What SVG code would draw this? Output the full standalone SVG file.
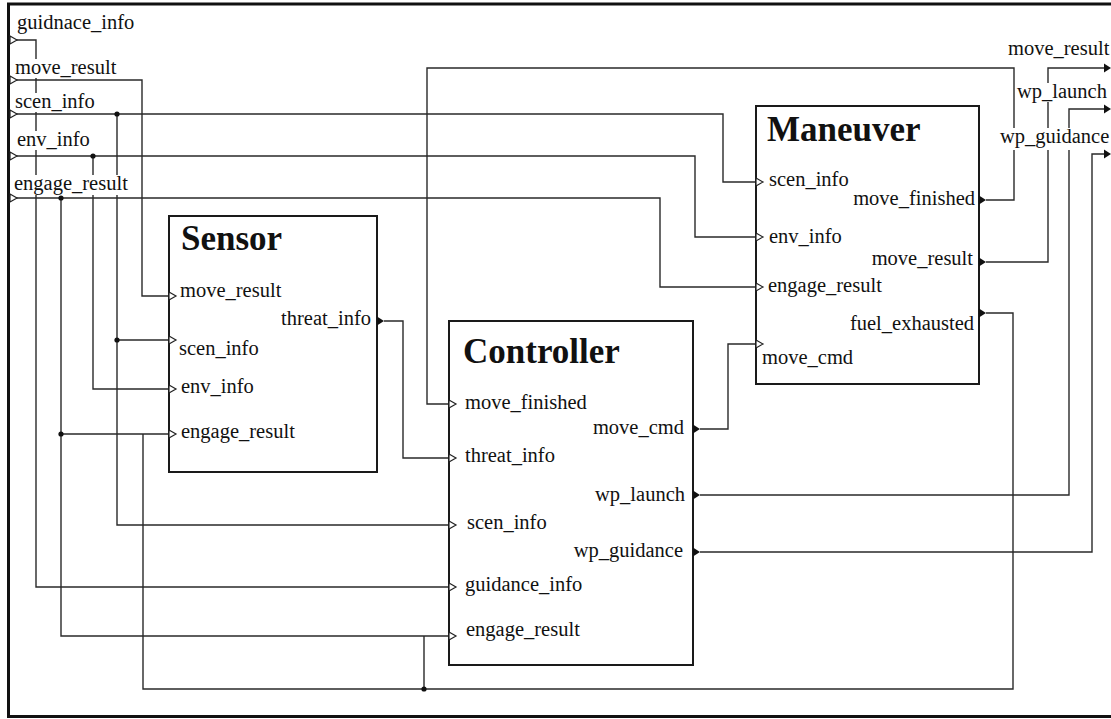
<svg xmlns="http://www.w3.org/2000/svg" width="1111" height="719" viewBox="0 0 1111 719">
<style>
.w{fill:none;stroke:#2a2a2a;stroke-width:1.4}
.box{fill:#fff;stroke:#1a1a1a;stroke-width:2}
.t{font-family:"Liberation Serif","Times New Roman",serif;font-size:20.5px;fill:#111}
.ti{font-family:"Liberation Serif","Times New Roman",serif;font-size:35px;font-weight:bold;fill:#111}
.e{text-anchor:end}
.in{fill:#fff;stroke:#222;stroke-width:1.2}
.out{fill:#111}
.dot{fill:#111}
.bg{fill:#fff}
</style>
<defs>
<polygon id="pin" class="in" points="0,-4 7,0 0,4"/>
<polygon id="pout" class="out" points="0,-4.5 7,0 0,4.5"/>
</defs>
<rect x="0" y="0" width="1111" height="719" fill="#fff"/>
<rect x="8.5" y="4" width="1130" height="712.5" fill="none" stroke="#111" stroke-width="3"/>

<g id="connectors">
<path class="w" d="M16,40 H36 V587 H450"/>
<path class="w" d="M16,80 H142 V296 H170"/>
<path class="w" d="M16,114 H723 V182 H757"/>
<path class="w" d="M117,114 V525 H450 M117,340 H170"/>
<path class="w" d="M16,156 H695 V237 H757"/>
<path class="w" d="M93,156 V389 H170"/>
<path class="w" d="M16,198 H660 V287 H757"/>
<path class="w" d="M61,198 V636 H450 M61,434 H170"/>
<path class="w" d="M384,321 H403 V458 H450"/>
<path class="w" d="M986,200 H1014 V68 H427 V404 H450"/>
<path class="w" d="M700,429 H728 V344 H757"/>
<path class="w" d="M986,262 H1048 V68 H1104"/>
<path class="w" d="M700,495 H1069 V109 H1104"/>
<path class="w" d="M700,552 H1092 V154 H1104"/>
<path class="w" d="M986,313 H1013 V689 H143 V434 M424,689 V636"/>
<circle class="dot" cx="117" cy="114" r="2.6"/>
<circle class="dot" cx="117" cy="340" r="2.6"/>
<circle class="dot" cx="93" cy="156" r="2.6"/>
<circle class="dot" cx="61" cy="198" r="2.6"/>
<circle class="dot" cx="61" cy="434" r="2.6"/>
<circle class="dot" cx="424" cy="689" r="2.6"/>
</g>

<g id="inputs">
<rect class="bg" x="16" y="14" width="119" height="19"/>
<text class="t" x="17" y="29">guidnace_info</text>
<use href="#pin" x="10" y="40"/>
<rect class="bg" x="14" y="59" width="103" height="19"/>
<text class="t" x="15" y="74">move_result</text>
<use href="#pin" x="10" y="80"/>
<rect class="bg" x="14" y="93" width="82" height="19"/>
<text class="t" x="15" y="108">scen_info</text>
<use href="#pin" x="10" y="114"/>
<rect class="bg" x="16" y="131" width="75" height="19"/>
<text class="t" x="17" y="146">env_info</text>
<use href="#pin" x="10" y="156"/>
<rect class="bg" x="13" y="175" width="116" height="20"/>
<text class="t" x="14" y="190">engage_result</text>
<use href="#pin" x="10" y="198"/>
</g>

<g id="outputs">
<rect class="bg" x="1007" y="40" width="104" height="19"/>
<text class="t" x="1008" y="55">move_result</text>
<use href="#pout" x="1104" y="68"/>
<rect class="bg" x="1016" y="83" width="92" height="19"/>
<text class="t" x="1017" y="98">wp_launch</text>
<use href="#pout" x="1104" y="109"/>
<rect class="bg" x="999" y="128" width="112" height="22"/>
<text class="t" x="1000" y="143">wp_guidance</text>
<use href="#pout" x="1104" y="154"/>
</g>

<g id="sensor">
<rect class="box" x="169" y="216" width="208" height="256"/>
<text class="ti" x="181" y="250">Sensor</text>
<use href="#pin" x="169" y="296"/>
<text class="t" x="180" y="297">move_result</text>
<use href="#pout" x="377" y="321"/>
<text class="t e" x="371" y="325">threat_info</text>
<use href="#pin" x="169" y="340"/>
<text class="t" x="179" y="355">scen_info</text>
<use href="#pin" x="169" y="389"/>
<text class="t" x="181" y="393">env_info</text>
<use href="#pin" x="169" y="434"/>
<text class="t" x="181" y="438">engage_result</text>
</g>

<g id="controller">
<rect class="box" x="449" y="321" width="244" height="344"/>
<text class="ti" x="463" y="363">Controller</text>
<use href="#pin" x="449" y="404"/>
<text class="t" x="465" y="409">move_finished</text>
<use href="#pin" x="449" y="458"/>
<text class="t" x="465" y="462">threat_info</text>
<use href="#pin" x="449" y="525"/>
<text class="t" x="467" y="529">scen_info</text>
<use href="#pin" x="449" y="587"/>
<text class="t" x="465" y="591">guidance_info</text>
<use href="#pin" x="449" y="636"/>
<text class="t" x="466" y="636">engage_result</text>
<use href="#pout" x="693" y="429"/>
<text class="t e" x="684" y="434">move_cmd</text>
<use href="#pout" x="693" y="495"/>
<text class="t e" x="685" y="501">wp_launch</text>
<use href="#pout" x="693" y="552"/>
<text class="t e" x="683" y="557">wp_guidance</text>
</g>

<g id="maneuver">
<rect class="box" x="756" y="106" width="223" height="278"/>
<text class="ti" x="767" y="141">Maneuver</text>
<use href="#pin" x="756" y="182"/>
<text class="t" x="769" y="186">scen_info</text>
<use href="#pout" x="979" y="200"/>
<text class="t e" x="975" y="205">move_finished</text>
<use href="#pin" x="756" y="237"/>
<text class="t" x="769" y="243">env_info</text>
<use href="#pout" x="979" y="262"/>
<text class="t e" x="973" y="265">move_result</text>
<use href="#pin" x="756" y="287"/>
<text class="t" x="768" y="292">engage_result</text>
<use href="#pout" x="979" y="313"/>
<text class="t e" x="974" y="330">fuel_exhausted</text>
<use href="#pin" x="756" y="344"/>
<text class="t" x="762" y="364">move_cmd</text>
</g>
</svg>
